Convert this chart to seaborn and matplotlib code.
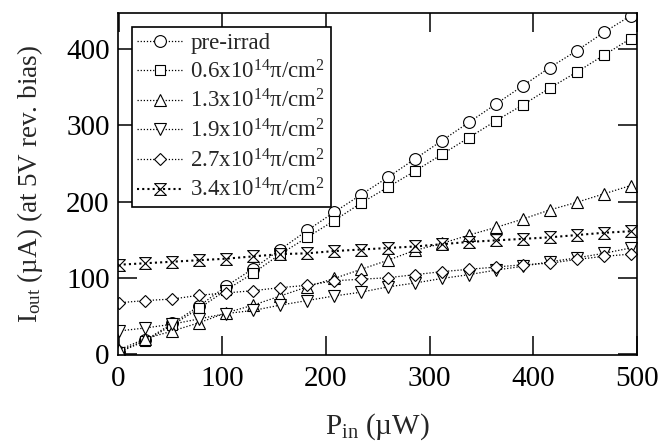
import numpy as np
import pandas as pd
import matplotlib
matplotlib.use("Agg")
import matplotlib.pyplot as plt
from matplotlib.path import Path
import seaborn as sns

# ---- data ----
p_in = [0, 26, 52, 78, 104, 130, 156, 182, 208, 234,
        260, 286, 312, 338, 364, 390, 416, 442, 468, 494]
pre_irrad = [3, 18, 40, 63, 89, 112, 137, 162, 186, 209,
             232, 256, 280, 304, 328, 352, 376, 398, 422, 444]
fl_0p6 = [2, 17, 38, 60, 84, 106, 131, 153, 175, 198,
          219, 240, 262, 284, 306, 327, 349, 370, 392, 414]
fl_1p3 = [5, 20, 30, 41, 54, 64, 76, 88, 99, 111,
          123, 136, 145, 156, 166, 177, 189, 199, 210, 221]
fl_1p9 = [30, 34, 39, 46, 53, 57, 64, 70, 76, 81,
          88, 93, 99, 104, 110, 115, 121, 126, 132, 139]
fl_2p7 = [67, 70, 72, 77, 80, 83, 87, 90, 96, 98,
          100, 104, 108, 111, 114, 117, 119, 124, 128, 131]
fl_3p4 = [117, 119, 121, 123, 125, 128, 131, 132, 135, 137,
          139, 141, 144, 147, 149, 151, 153, 156, 159, 161]

labels = ["pre-irrad",
          "0.6x10$^{14}$π/cm$^{2}$",
          "1.3x10$^{14}$π/cm$^{2}$",
          "1.9x10$^{14}$π/cm$^{2}$",
          "2.7x10$^{14}$π/cm$^{2}$",
          "3.4x10$^{14}$π/cm$^{2}$"]
series = [pre_irrad, fl_0p6, fl_1p3, fl_1p9, fl_2p7, fl_3p4]

# ---- style ----
sns.set_style("ticks")
plt.rcParams["font.family"] = ["Liberation Serif", "DejaVu Serif"]
plt.rcParams["mathtext.fontset"] = "custom"
plt.rcParams["mathtext.rm"] = "Liberation Serif"
plt.rcParams["mathtext.it"] = "Liberation Serif:italic"
plt.rcParams["mathtext.bf"] = "Liberation Serif:bold"

hourglass = Path([(-1, 1), (1, 1), (-1, -1), (1, -1), (-1, 1)],
                 [Path.MOVETO, Path.LINETO, Path.LINETO, Path.LINETO, Path.CLOSEPOLY])
markers = ["o", "s", "^", "v", "D", hourglass]
msizes = [8.5, 7.8, 9.0, 9.0, 6.2, 8.5]
lwidths = [0.9, 0.9, 0.9, 0.9, 0.9, 1.5]

fig = plt.figure(figsize=(6.61, 4.47), dpi=100)
ax = fig.add_axes([0.1785, 0.2058, 0.785, 0.765])

for lab, ys, mk, ms, lw in zip(labels, series, markers, msizes, lwidths):
    df = pd.DataFrame({"P_in": p_in, "I_out": ys})
    sns.lineplot(data=df, x="P_in", y="I_out", ax=ax, color="black",
                 marker=mk, markersize=ms, mfc="white", mec="black",
                 markeredgewidth=0.8, linestyle=(0, (1, 1.5)), linewidth=lw,
                 label=lab)

ax.set_xlim(-0.5, 500)
ax.set_ylim(-1.5, 447.5)
ax.set_xticks([0, 100, 200, 300, 400, 500])
ax.set_yticks([0, 100, 200, 300, 400])
ax.tick_params(direction="in", length=14, width=1.1, top=True, right=True,
               labelsize=21, pad=6, colors="black")
ax.tick_params(axis="x", pad=8)
for sp in ax.spines.values():
    sp.set_linewidth(1.2)
    sp.set_color("black")

ax.set_xlabel("P$_{\\rm in}$ (µW)", fontsize=21, labelpad=14)
ax.set_ylabel("I$_{\\rm out}$ (µA) (at 5V rev. bias)", fontsize=19.5, labelpad=15)

leg = ax.legend(loc="upper left", fontsize=16.5, frameon=True, fancybox=False,
                edgecolor="black", framealpha=1, handlelength=2.0,
                handletextpad=0.3, labelspacing=0.28, borderpad=0.25,
                borderaxespad=0.6)
leg.get_frame().set_linewidth(1.2)

fig.savefig("out.png", dpi=100)
